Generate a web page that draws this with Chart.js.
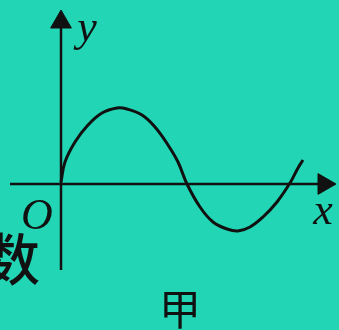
<!DOCTYPE html>
<html>
<head>
<meta charset="utf-8">
<script src="https://cdn.jsdelivr.net/npm/chart.js@4/dist/chart.umd.min.js"></script>
<style>
  html, body { margin: 0; padding: 0; background: #22d5b4; overflow: hidden; }
  #wrap { position: relative; width: 339px; height: 330px; }
  .lbl { position: absolute; transform: translate(-50%, -50%); line-height: 1; color: #111; white-space: nowrap; }
  .it { font-family: "Liberation Serif", "DejaVu Serif", serif; font-style: italic; }
  .cjk { font-family: "Noto Sans CJK SC", sans-serif; }
</style>
</head>
<body>
<div id="wrap">
  <canvas id="waveChart"></canvas>
  <span class="lbl it" style="left:87px; top:27px; font-size:44px;">y</span>
  <span class="lbl it" style="left:323px; top:210px; font-size:44px;">x</span>
  <span class="lbl it" style="left:37px; top:215px; font-size:44px;">O</span>
  <span class="lbl cjk" style="left:12px; top:256px; font-size:56px; font-weight:500;">数</span>
  <span class="lbl cjk" style="left:180px; top:307px; font-size:42px; font-weight:400;">甲</span>
</div>
<script>
  // curve (1 unit = 10 px, origin at O)
  const curveX = [0, 0.4, 1.4, 2.7, 4.1, 5.6, 6.6, 8.1, 9.4, 10.7, 11.7, 12.6, 13.9, 15.2, 16.6, 17.7, 18.9, 20.2, 21.6, 22.9, 23.7, 24.2];
  const curveY = [0.2, 2.2, 4.2, 5.9, 7.1, 7.6, 7.5, 6.9, 5.7, 3.9, 2.2, 0, -2.3, -3.8, -4.5, -4.7, -4.3, -3.3, -1.8, 0.1, 1.6, 2.4];

  // axis extents
  const xAxisFrom = -5.1, xAxisTo = 26.9;
  const yAxisFrom = -8.6, yAxisTo = 17.0;
  const xArrowAt = 26.3, yArrowAt = 16.2;

  // visible window
  const xMin = -6.1, xMax = 27.8;
  const yMin = -14.6, yMax = 18.4;

  const INK = '#111111';

  function pts(xs, ys) {
    return xs.map(function (x, i) { return { x: x, y: ys[i] }; });
  }

  new Chart(document.getElementById('waveChart'), {
    type: 'scatter',
    data: {
      datasets: [
        {
          label: 'x axis',
          data: [{ x: xAxisFrom, y: 0 }, { x: xAxisTo, y: 0 }],
          showLine: true, borderColor: INK, borderWidth: 2.5, pointRadius: 0
        },
        {
          label: 'y axis',
          data: [{ x: 0, y: yAxisFrom }, { x: 0, y: yAxisTo }],
          showLine: true, borderColor: INK, borderWidth: 2.5, pointRadius: 0
        },
        {
          label: 'arrows',
          data: [{ x: xArrowAt, y: 0 }, { x: 0, y: yArrowAt }],
          pointStyle: 'triangle', pointRadius: 12, pointRotation: [90, 0],
          backgroundColor: INK, borderColor: INK, borderWidth: 1
        },
        {
          label: 'wave',
          data: pts(curveX, curveY),
          showLine: true, borderColor: INK, borderWidth: 3, pointRadius: 0,
          tension: 0.4
        }
      ]
    },
    options: {
      responsive: true,
      maintainAspectRatio: false,
      animation: false,
      layout: { padding: 0, autoPadding: false },
      plugins: { legend: { display: false }, tooltip: { enabled: false } },
      scales: {
        x: { type: 'linear', min: xMin, max: xMax, display: false },
        y: { type: 'linear', min: yMin, max: yMax, display: false }
      }
    }
  });
</script>
</body>
</html>
